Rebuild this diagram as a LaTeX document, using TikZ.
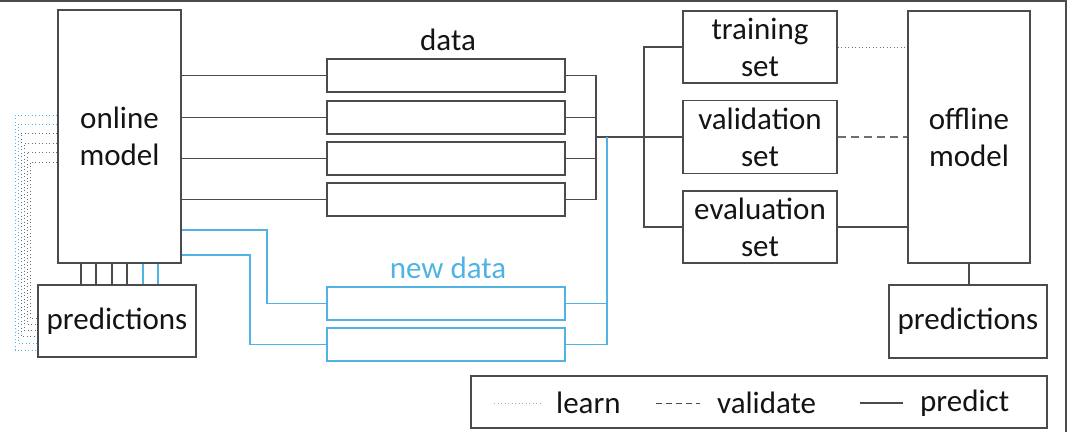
\documentclass[tikz,border=0pt]{standalone}
\usepackage{fontspec}
\setmainfont{Carlito}
\usetikzlibrary{calc}
\definecolor{lineg}{RGB}{75,75,75}
\definecolor{skyb}{RGB}{79,180,228}
\definecolor{txt}{RGB}{20,20,20}
\definecolor{dotg}{RGB}{110,110,110}
\begin{document}
\begin{tikzpicture}[x=1pt,y=-1pt,
  every node/.style={font=\fontsize{31}{37}\selectfont, text=txt, inner sep=0pt},
  box/.style={draw=lineg, line width=1.6pt, align=center},
  bluebox/.style={draw=skyb, line width=1.6pt},
  conn/.style={draw=lineg, line width=1.5pt},
  bconn/.style={draw=skyb, line width=1.5pt},
  dotline/.style={draw=dotg, line width=1pt, dash pattern=on 1pt off 2.5pt},
  bdotline/.style={draw=skyb, line width=1pt, dash pattern=on 1pt off 2.5pt},
  dashline/.style={draw=dotg, line width=1.5pt, dash pattern=on 8pt off 5pt}]
\useasboundingbox (0,0) rectangle (1075,432);
% frame
\draw[lineg, line width=1.3pt] (0,1) -- (1066,1) -- (1066,432);
% boxes
\node[box, minimum width=123, minimum height=253] (online) at (119.5,136.5) {online\\model};
\node[box, minimum width=158, minimum height=72] (predL) at (117,321) {predictions};
\node[box, minimum width=238, minimum height=33] (d1) at (446,75.5) {};
\node[box, minimum width=238, minimum height=33] (d2) at (446,117.5) {};
\node[box, minimum width=238, minimum height=33] (d3) at (446,158.5) {};
\node[box, minimum width=238, minimum height=33] (d4) at (446,199.5) {};
\node[bluebox, minimum width=238, minimum height=33] (n1) at (446,303.5) {};
\node[bluebox, minimum width=238, minimum height=33] (n2) at (446,344.5) {};
\node (datal) at (448,40) {data};
\node[text=skyb] (newl) at (448,268) {new data};
\node[box, minimum width=154, minimum height=72] (train) at (760,47) {training\\set};
\node[box, minimum width=154, minimum height=73] (valid) at (760,137) {validation\\set};
\node[box, minimum width=154, minimum height=72] (eval) at (760,227) {evaluation\\set};
\node[box, minimum width=122, minimum height=252] (offline) at (969,137) {offline\\model};
\node[box, minimum width=158, minimum height=73] (predR) at (968,321.5) {predictions};
% online -> data
\foreach \d in {d1,d2,d3,d4} \draw[conn] (online.east |- \d.west) -- (\d.west);
% data -> bus
\coordinate (busA) at (596,137);
\coordinate (busB) at (644,137);
\coordinate (busC) at (607,137);
\foreach \d in {d1,d2,d3,d4} \draw[conn] (\d.east) -| (busA);
\draw[conn] (busA) -- (busB);
\draw[conn] (busB) |- (train.west);
\draw[conn] (busB) |- (eval.west);
\draw[conn] (busB) -- (valid.west);
% new data
\draw[bconn] (n1.east) -| (busC);
\draw[bconn] (n2.east) -| (busC);
\coordinate (b1) at (267,230);
\coordinate (b2) at (250,255);
\draw[bconn] (b1 -| online.east) -- (b1) |- (n1.west);
\draw[bconn] (b2 -| online.east) -- (b2) |- (n2.west);
% online -> predictions
\foreach \x [count=\i] in {81,96,112,127} {
  \coordinate (v\i) at (\x,0);
  \draw[conn] (online.south -| v\i) -- (predL.north -| v\i);
}
\foreach \x [count=\i] in {143,158} {
  \coordinate (w\i) at (\x,0);
  \draw[bconn] (online.south -| w\i) -- (predL.north -| w\i);
}
% learning loops on the left
\foreach \y/\x/\e [count=\i] in {115/15/350,124/18/343} {
  \coordinate (ls\i) at (\x,\y);
  \coordinate (le\i) at (\x,\e);
  \draw[bdotline] (online.west |- ls\i) -- (ls\i) -- (le\i) -- (predL.west |- le\i);
}
\foreach \y/\x/\e [count=\i] in {133/21/336,143/24/330,152/27/324,162/30/318} {
  \coordinate (ks\i) at (\x,\y);
  \coordinate (ke\i) at (\x,\e);
  \draw[dotline] (online.west |- ks\i) -- (ks\i) -- (ke\i) -- (predL.west |- ke\i);
}
% sets -> offline
\draw[dotline] (train.east) -- (train.east -| offline.west);
\draw[dashline] (valid.east) -- (valid.east -| offline.west);
\draw[conn] (eval.east) -- (eval.east -| offline.west);
\draw[conn] (offline.south) -- (offline.south |- predR.north);
% legend
\node[box, minimum width=576, minimum height=52] (legend) at (759,402) {};
\coordinate (s1a) at (494,403); \coordinate (s1b) at (540,403);
\coordinate (s2a) at (656,403); \coordinate (s2b) at (700,403);
\coordinate (s3a) at (860,403); \coordinate (s3b) at (903,403);
\draw[dotline, draw=dotg!60] (s1a) -- (s1b);
\draw[dashline, draw=lineg, line width=1pt, dash pattern=on 6pt off 4pt] (s2a) -- (s2b);
\draw[conn, line width=1.1pt] (s3a) -- (s3b);
\node[anchor=west] (lg1) at (556,403) {learn};
\node[anchor=west] (lg2) at (717,403) {validate};
\node[anchor=west] (lg3) at (920,403) {predict};
\end{tikzpicture}
\end{document}
